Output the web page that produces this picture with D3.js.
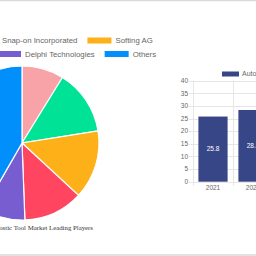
<html>
<head>
<script src="https://d3js.org/d3.v7.min.js"></script>
<style>
  body { margin: 0; background: #fff; }
  svg { display: block; }
</style>
</head>
<body>
<div id="chart"></div>
<script>
  // pie: leading players share
  var players = ["Robert Bosch GmbH", "Snap-on Incorporated", "Softing AG", "Continental AG", "Delphi Technologies", "Others"];
  var shares = [8.8, 13.7, 14.4, 12.5, 8.9, 41.7];
  var pieColors = ["#f7a3a8", "#00e396", "#feb019", "#ff4560", "#775dd0", "#008ffb"];

  // bars: market size by year
  var years = ["2021", "2022"];
  var marketSize = [25.8, 28.4];
  var yTicks = [0, 5, 10, 15, 20, 25, 30, 35, 40];

  var W = 256, H = 256;
  var svg = d3.select("#chart").append("svg").attr("width", W).attr("height", H);

  // frame lines top / bottom
  svg.append("line").attr("x1", 0).attr("x2", W).attr("y1", 0.5).attr("y2", 0.5)
    .attr("stroke", "#d9d9d9").attr("stroke-width", 1.5);
  svg.append("line").attr("x1", 0).attr("x2", W).attr("y1", 255).attr("y2", 255)
    .attr("stroke", "#d9d9d9").attr("stroke-width", 1.5);

  // ---- pie ----
  var cx = 22, cy = 143, r = 77;
  var pie = d3.pie().sort(null)(shares);
  var arc = d3.arc().innerRadius(0).outerRadius(r);
  svg.append("g").attr("transform", "translate(" + cx + "," + cy + ")")
    .selectAll("path").data(pie).enter().append("path")
    .attr("d", arc)
    .attr("fill", function(d, i) { return pieColors[i]; })
    .attr("stroke", "#fff").attr("stroke-width", 1.2);

  // legend, 3 per row; each row is anchored at its 2nd item's swatch
  var legFont = 7.8, sw = 24, gapText = 4, gapItem = 10;
  var rows = [[0, 1, 2], [3, 4, 5]];
  var anchorX = [-26, -3], rowY = [40.5, 54];
  var leg = svg.append("g").attr("font-family", "Liberation Sans, Arial, sans-serif")
    .attr("font-size", legFont).attr("fill", "#666");
  function item(i, x, yy) {
    leg.append("rect").attr("x", x).attr("y", yy - 3).attr("width", sw).attr("height", 6).attr("fill", pieColors[i]);
    var t = leg.append("text").attr("x", x + sw + gapText).attr("y", yy).attr("dy", "0.35em").text(players[i]);
    return sw + gapText + t.node().getComputedTextLength();
  }
  rows.forEach(function(row, ri) {
    var yy = rowY[ri];
    // first item to the left of the anchor
    var probe = leg.append("text").text(players[row[0]]);
    var w0 = sw + gapText + probe.node().getComputedTextLength();
    probe.remove();
    item(row[0], anchorX[ri] - gapItem - w0, yy);
    var x = anchorX[ri];
    x += item(row[1], x, yy) + gapItem;
    item(row[2], x, yy);
  });

  svg.append("text").attr("x", 93).attr("y", 230).attr("text-anchor", "end")
    .attr("font-family", "Liberation Serif, Times New Roman, serif").attr("font-size", 6.8)
    .attr("fill", "#333").text("Automotive Diagnostic Tool Market Leading Players");

  // ---- bars ----
  var x0 = 193, step = 40;
  var x = d3.scaleBand().domain(years).range([x0, x0 + step * years.length]).paddingInner(0.27).paddingOuter(0.135);
  var y = d3.scaleLinear().domain([0, 40]).range([181.7, 80.7]);

  var grid = svg.append("g").attr("stroke", "#e6e6e6").attr("stroke-width", 1);
  yTicks.forEach(function(v) {
    grid.append("line").attr("x1", x0 - 4).attr("x2", W).attr("y1", Math.round(y(v)) + 0.5).attr("y2", Math.round(y(v)) + 0.5);
  });
  d3.range(years.length + 1).forEach(function(k) {
    var gx = x0 + k * step + 0.5;
    grid.append("line").attr("x1", gx).attr("x2", gx).attr("y1", y(40)).attr("y2", y(0) + 4);
  });

  var axisFont = svg.append("g").attr("font-family", "Liberation Sans, Arial, sans-serif").attr("font-size", 6.5).attr("fill", "#666");
  yTicks.forEach(function(v) {
    axisFont.append("text").attr("x", 188).attr("y", y(v)).attr("dy", "0.35em").attr("text-anchor", "end").text(v);
  });
  years.forEach(function(yr) {
    axisFont.append("text").attr("x", x(yr) + x.bandwidth() / 2).attr("y", 190).attr("text-anchor", "middle").text(yr);
  });

  svg.append("g").selectAll("rect").data(marketSize).enter().append("rect")
    .attr("x", function(d, i) { return x(years[i]); })
    .attr("y", function(d) { return y(d); })
    .attr("width", x.bandwidth())
    .attr("height", function(d) { return y(0) - y(d); })
    .attr("fill", "#374687");

  svg.append("g").selectAll("text").data(marketSize).enter().append("text")
    .attr("x", function(d, i) { return x(years[i]) + x.bandwidth() / 2; })
    .attr("y", function(d) { return (y(d) + y(0)) / 2; })
    .attr("dy", "0.35em").attr("text-anchor", "middle")
    .attr("font-family", "Liberation Sans, Arial, sans-serif").attr("font-size", 6.5).attr("fill", "#fff")
    .text(function(d) { return d.toFixed(1); });

  svg.append("rect").attr("x", 222).attr("y", 71.5).attr("width", 17).attr("height", 5).attr("fill", "#374687");
  svg.append("text").attr("x", 242).attr("y", 74).attr("dy", "0.35em")
    .attr("font-family", "Liberation Sans, Arial, sans-serif").attr("font-size", 7).attr("fill", "#666")
    .text("Automotive Diagnostic Tool Market Size");
</script>
</body>
</html>
